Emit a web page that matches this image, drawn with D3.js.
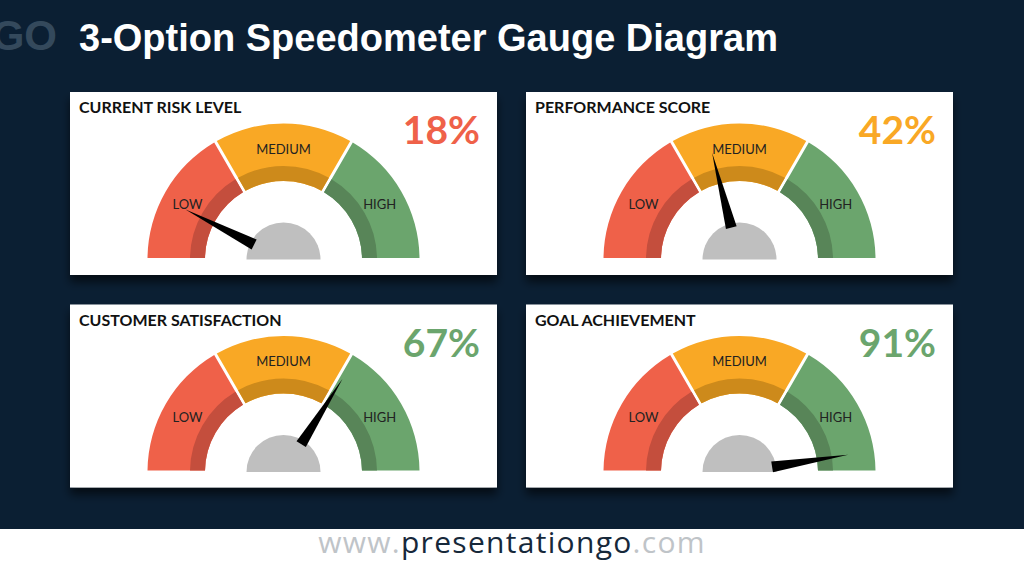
<!DOCTYPE html>
<html><head><meta charset="utf-8">
<script src="https://cdn.jsdelivr.net/npm/d3@7"></script>
<style>html,body{margin:0;padding:0;background:#0b1f33;overflow:hidden}</style>
</head><body>
<svg id="chart" width="1024" height="576"></svg>
<script>
// ---- data ----
const chartTitle = "3-Option Speedometer Gauge Diagram";
const gaugeTitles = ["CURRENT RISK LEVEL", "PERFORMANCE SCORE", "CUSTOMER SATISFACTION", "GOAL ACHIEVEMENT"];
const gaugeValues = [18, 42, 67, 91];            // percent shown
const needlePositions = [15, 42, 68, 95];        // where the needle points
const zoneLabels = ["LOW", "MEDIUM", "HIGH"];
const zoneBreaks = [0, 100/3, 200/3, 100];
const footerParts = ["www.", "presentationgo", ".com"];

// ---- styles ----
const bg = "#0b1f33";
const zoneLight = ["#ef6149", "#f9a825", "#6ba56d"];
const zoneDark  = ["#c44e3d", "#cd8a1b", "#588558"];

const svg = d3.select("#chart");
svg.append("rect").attr("width", 1024).attr("height", 576).attr("fill", bg);

const defs = svg.append("defs");
const f = defs.append("filter").attr("id", "shadow").attr("x", "-10%").attr("y", "-10%").attr("width", "120%").attr("height", "130%");
f.append("feDropShadow").attr("dx", 0).attr("dy", 7).attr("stdDeviation", 5).attr("flood-color", "#000").attr("flood-opacity", 0.6);

// logo fragment (cut at left edge as in the reference)
svg.append("text").attr("x", 57).attr("y", 50).attr("text-anchor", "end")
  .attr("font-family", "Liberation Sans, Arial, sans-serif").attr("font-weight", "bold")
  .attr("font-size", 42).attr("fill", "#34495c").text("GO");

// title
svg.append("text").attr("x", 79).attr("y", 51)
  .attr("font-family", "Liberation Sans, Arial, sans-serif").attr("font-weight", "bold")
  .attr("font-size", 38).attr("fill", "#ffffff").text(chartTitle);

// footer
svg.append("rect").attr("x", 0).attr("y", 529).attr("width", 1024).attr("height", 47).attr("fill", "#ffffff");
const ft = svg.append("text").attr("x", 512).attr("y", 553).attr("text-anchor", "middle")
  .attr("font-family", "Open Sans, sans-serif").attr("font-size", 30).attr("letter-spacing", 1.3);
const footerColors = ["#bfc4c8", "#16283a", "#bfc4c8"];
footerParts.forEach((p, i) => ft.append("tspan").attr("fill", footerColors[i]).text(p));

// panels
const panelW = 427, panelH = 183;
const panelX = d3.scaleOrdinal().domain([0,1]).range([70, 526]);
const panelY = d3.scaleOrdinal().domain([0,1]).range([92, 304.5]);

const angle = d3.scaleLinear().domain([0, 100]).range([-Math.PI/2, Math.PI/2]);
const zoneOf = v => d3.bisectRight(zoneBreaks, v) - 1;

const rOuter = 136, rMid = 93.5, rInner = 78.5, rHub = 37, rLabel = 111, rTip = 110;
const arcGen = d3.arc().padRadius(100).padAngle(0.03);

gaugeTitles.forEach((title, i) => {
  const col = i % 2, row = Math.floor(i / 2);
  const px = panelX(col), py = panelY(row);
  const g = svg.append("g");
  g.append("rect").attr("x", px).attr("y", py).attr("width", panelW).attr("height", panelH)
    .attr("fill", "#ffffff").attr("filter", "url(#shadow)");

  g.append("text").attr("x", px + 9).attr("y", py + 21)
    .attr("font-family", "Lato, sans-serif").attr("font-weight", "bold").attr("font-size", 16)
    .attr("fill", "#111").text(title);

  const v = gaugeValues[i];
  g.append("text").attr("x", px + 410).attr("y", py + 52).attr("text-anchor", "end")
    .attr("font-family", "Lato, sans-serif").attr("font-weight", "bold").attr("font-size", 39)
    .attr("fill", zoneLight[zoneOf(v)]).text(v + "%");

  const cx = px + 213.5, cy = py + 167.5;
  const gg = g.append("g").attr("transform", `translate(${cx},${cy})`);
  zoneLabels.forEach((lab, z) => {
    const a0 = angle(zoneBreaks[z]), a1 = angle(zoneBreaks[z+1]);
    gg.append("path").attr("fill", zoneLight[z])
      .attr("d", arcGen({innerRadius: rInner, outerRadius: rOuter, startAngle: a0, endAngle: a1}));
    gg.append("path").attr("fill", zoneDark[z])
      .attr("d", arcGen({innerRadius: rInner, outerRadius: rMid, startAngle: a0, endAngle: a1}));
    const am = (a0 + a1) / 2;
    gg.append("text").attr("x", rLabel * Math.sin(am)).attr("y", -rLabel * Math.cos(am))
      .attr("text-anchor", "middle").attr("dominant-baseline", "central")
      .attr("font-family", "Lato, sans-serif").attr("font-size", 13).attr("fill", "#222")
      .text(lab);
  });
  // hub
  gg.append("path").attr("fill", "#bfbfbf")
    .attr("d", d3.arc()({innerRadius: 0, outerRadius: rHub, startAngle: -Math.PI/2, endAngle: Math.PI/2}));
  // needle
  const t = angle(needlePositions[i]);
  const ux = Math.sin(t), uy = -Math.cos(t), nx = -uy, ny = ux;
  const rb = 33, hw = 5.5;
  const pts = [[rb*ux + hw*nx, rb*uy + hw*ny], [rTip*ux, rTip*uy], [rb*ux - hw*nx, rb*uy - hw*ny]];
  gg.append("path").attr("fill", "#000").attr("d", d3.line()(pts) + "Z");
});
</script>
</body></html>
